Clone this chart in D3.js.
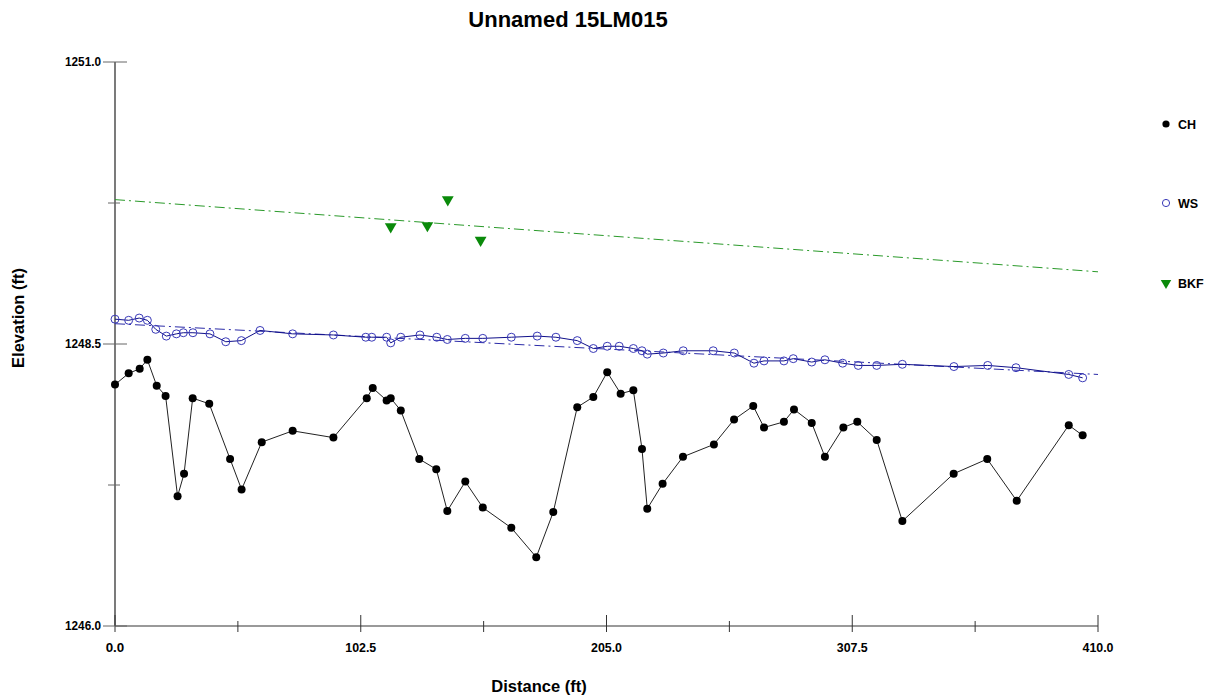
<!DOCTYPE html>
<html><head><meta charset="utf-8">
<script src="https://cdn.jsdelivr.net/npm/d3@7"></script>
<style>body{margin:0;background:#fff}svg{font-family:"Liberation Sans",Arial,sans-serif}</style>
</head><body><svg id="c" width="1210" height="696"></svg>
<script>
const title = "Unnamed 15LM015";
const xTicks = [0, 102.5, 205, 307.5, 410];
const xMinor = [51.25, 153.75, 256.25, 358.75];
const yTicks = [1246.0, 1248.5, 1251.0];
const yMinor = [1247.25, 1249.75];

const chX = [0,5.7,10.3,13.5,17.4,21.1,26.1,28.8,32.4,39.3,48.0,52.8,61.2,74.1,91.1,105.0,107.5,113.3,115.0,119.2,126.9,134.0,138.6,146.1,153.4,165.3,175.7,182.8,192.8,199.5,205.3,210.9,216.2,219.8,222.0,228.4,236.9,249.8,258.2,266.2,270.7,279.0,283.2,290.6,296.1,303.8,309.6,317.7,328.4,349.8,363.8,376.1,397.8,403.6];
const chY = [1248.14,1248.24,1248.28,1248.36,1248.13,1248.04,1247.15,1247.35,1248.02,1247.97,1247.48,1247.21,1247.63,1247.73,1247.67,1248.02,1248.11,1248.00,1248.02,1247.91,1247.48,1247.39,1247.02,1247.28,1247.05,1246.87,1246.61,1247.01,1247.94,1248.03,1248.25,1248.06,1248.09,1247.57,1247.04,1247.26,1247.50,1247.61,1247.83,1247.95,1247.76,1247.81,1247.92,1247.80,1247.50,1247.76,1247.81,1247.65,1246.93,1247.35,1247.48,1247.11,1247.78,1247.69];

const wsX = [0,5.7,10.1,13.5,17.0,21.4,25.6,28.5,32.5,39.6,46.2,52.7,60.5,74.1,91.1,104.6,107.1,113.3,115.0,119.2,127.2,134.2,138.6,146.1,153.4,165.3,176.1,183.9,192.8,199.5,205.3,210.3,216.2,219.8,222.0,228.7,237.0,249.5,258.3,266.5,270.7,279.0,282.9,290.6,296.1,303.5,310.0,317.7,328.4,349.9,364.0,375.8,397.8,403.6];
const wsY = [1248.72,1248.71,1248.73,1248.71,1248.63,1248.57,1248.59,1248.60,1248.60,1248.59,1248.52,1248.53,1248.62,1248.59,1248.58,1248.56,1248.56,1248.56,1248.51,1248.56,1248.58,1248.56,1248.54,1248.55,1248.55,1248.56,1248.57,1248.56,1248.53,1248.46,1248.48,1248.48,1248.46,1248.44,1248.41,1248.42,1248.44,1248.44,1248.42,1248.33,1248.35,1248.35,1248.37,1248.34,1248.36,1248.33,1248.31,1248.31,1248.32,1248.30,1248.31,1248.29,1248.23,1248.20];
const wsFitX = [0, 410];
const wsFitY = [1248.68, 1248.23];

const bkfX = [115.0, 130.3, 138.8, 152.5];
const bkfY = [1249.54, 1249.55, 1249.78, 1249.42];
const bkfFitX = [0, 410];
const bkfFitY = [1249.78, 1249.14];

const legendNames = ["CH", "WS", "BKF"];

const svg = d3.select("#c");
const L = 115, R = 1098, T = 62, B = 626;
const x = d3.scaleLinear().domain([0, 410]).range([L, R]);
const y = d3.scaleLinear().domain([1246, 1251]).range([B, T]);

svg.append("text").attr("x", 568).attr("y", 27).attr("text-anchor", "middle")
  .attr("font-size", 22).attr("font-weight", "bold").text(title);

// x axis
const gx = svg.append("g").attr("transform", `translate(0,${B})`);
gx.append("line").attr("x1", L).attr("x2", R).attr("stroke", "#999").attr("stroke-width", 2.2);
gx.selectAll(".mj").data(xTicks).join("line").attr("x1", d => x(d)).attr("x2", d => x(d))
  .attr("y1", -11).attr("y2", 6).attr("stroke", "#333").attr("stroke-width", 1);
gx.selectAll(".mn").data(xMinor).join("line").attr("x1", d => x(d)).attr("x2", d => x(d))
  .attr("y1", -5).attr("y2", 6).attr("stroke", "#333").attr("stroke-width", 1);
gx.selectAll("text").data(xTicks).join("text").attr("x", d => x(d)).attr("y", 26)
  .attr("text-anchor", "middle").attr("font-size", 12).attr("font-weight", "bold")
  .attr("textLength", d => d.toFixed(1).length * 6.2).attr("lengthAdjust", "spacingAndGlyphs")
  .text(d => d.toFixed(1));
svg.append("text").attr("x", 539).attr("y", 692).attr("text-anchor", "middle")
  .attr("font-size", 16.5).attr("font-weight", "bold").text("Distance (ft)");

// y axis
const gy = svg.append("g");
gy.append("line").attr("x1", L).attr("x2", L).attr("y1", T).attr("y2", B).attr("stroke", "#333").attr("stroke-width", 1.3);
gy.selectAll(".mj").data(yTicks).join("line").attr("x1", 103).attr("x2", 127)
  .attr("y1", d => y(d)).attr("y2", d => y(d)).attr("stroke", "#666").attr("stroke-width", 1);
gy.selectAll(".mn").data(yMinor).join("line").attr("x1", 108).attr("x2", 120)
  .attr("y1", d => y(d)).attr("y2", d => y(d)).attr("stroke", "#666").attr("stroke-width", 1);
gy.selectAll("text").data(yTicks).join("text").attr("x", 101).attr("y", d => y(d) + 4)
  .attr("text-anchor", "end").attr("font-size", 12).attr("font-weight", "bold")
  .attr("textLength", 36).attr("lengthAdjust", "spacingAndGlyphs")
  .text(d => d.toFixed(1));
svg.append("text").attr("transform", "translate(24,318) rotate(-90)").attr("text-anchor", "middle")
  .attr("font-size", 16.5).attr("font-weight", "bold").text("Elevation (ft)");

// fit lines
const line = d3.line().x(d => x(d[0])).y(d => y(d[1]));
svg.append("path").attr("d", line(d3.zip(bkfFitX, bkfFitY))).attr("fill", "none")
  .attr("stroke", "#2a9a2a").attr("stroke-width", 1).attr("stroke-dasharray", "10,4,2,4");
svg.append("path").attr("d", line(d3.zip(wsFitX, wsFitY))).attr("fill", "none")
  .attr("stroke", "#2b2ba8").attr("stroke-width", 1).attr("stroke-dasharray", "10,4,2,4");

// CH
const ch = d3.zip(chX, chY);
svg.append("path").attr("d", line(ch)).attr("fill", "none").attr("stroke", "#222").attr("stroke-width", 1);
svg.selectAll(".ch").data(ch).join("circle").attr("cx", d => x(d[0])).attr("cy", d => y(d[1]))
  .attr("r", 4).attr("fill", "#000");

// WS
const ws = d3.zip(wsX, wsY);
svg.append("path").attr("d", line(ws)).attr("fill", "none").attr("stroke", "#10108a").attr("stroke-width", 1);
svg.selectAll(".ws").data(ws).join("circle").attr("cx", d => x(d[0])).attr("cy", d => y(d[1]))
  .attr("r", 4).attr("fill", "none").attr("stroke", "#3a3ab8").attr("stroke-width", 1);

// BKF
const tri = d3.symbol().type(d3.symbolTriangle).size(60);
svg.selectAll(".bkf").data(d3.zip(bkfX, bkfY)).join("path").attr("d", tri)
  .attr("transform", d => `translate(${x(d[0])},${y(d[1])}) rotate(180)`).attr("fill", "#0a8a0a");

// legend
const ly = [124, 203, 283];
const lg = svg.append("g");
lg.append("circle").attr("cx", 1166).attr("cy", ly[0]).attr("r", 3.6).attr("fill", "#000");
lg.append("circle").attr("cx", 1166).attr("cy", ly[1]).attr("r", 3.6).attr("fill", "none").attr("stroke", "#3a3ab8");
lg.append("path").attr("d", d3.symbol().type(d3.symbolTriangle).size(48))
  .attr("transform", `translate(1166,${ly[2]}) rotate(180)`).attr("fill", "#0a8a0a");
lg.selectAll("text").data(legendNames).join("text").attr("x", 1178).attr("y", (d, i) => ly[i] + 4.5)
  .attr("font-size", 12.5).attr("font-weight", "bold").text(d => d);
</script></body></html>
